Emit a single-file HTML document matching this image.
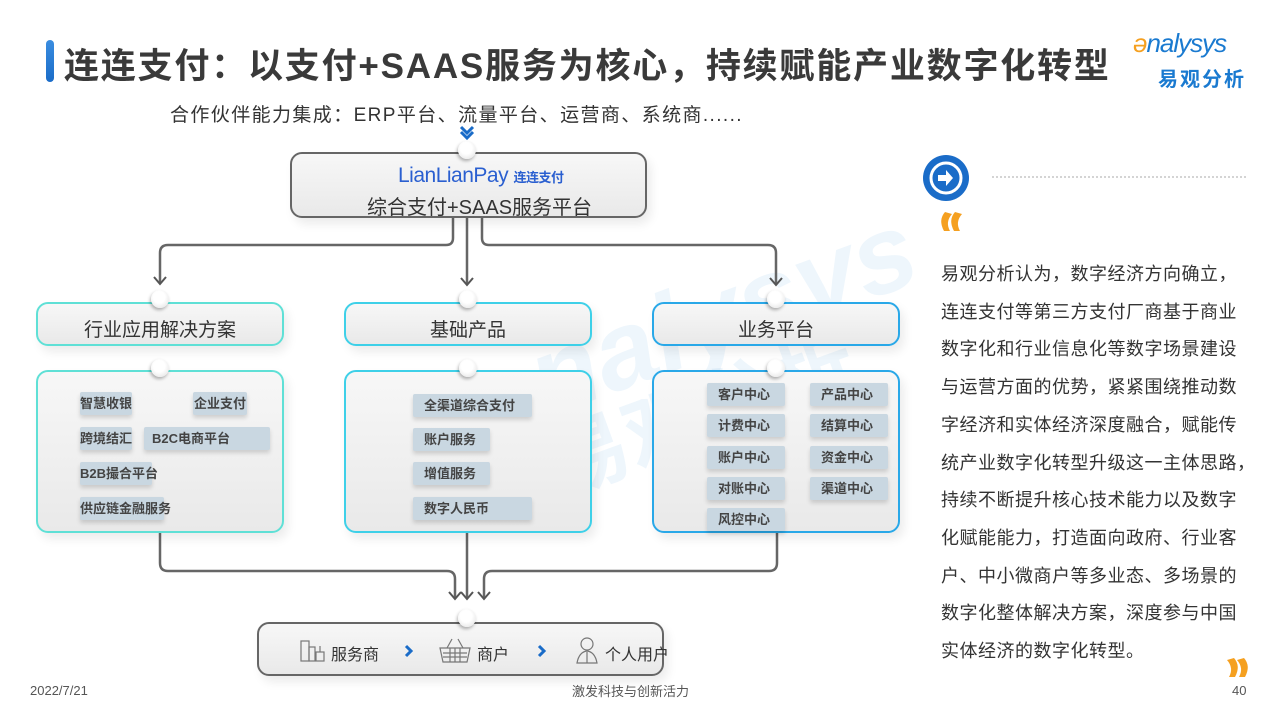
<!DOCTYPE html>
<html><head><meta charset="utf-8">
<style>
*{margin:0;padding:0;box-sizing:border-box}
body{width:1280px;height:720px;overflow:hidden;background:#fff;font-family:"Liberation Sans","Noto Sans CJK SC",sans-serif;position:relative;color:#333}
.a{position:absolute}
.box{position:absolute;border-radius:12px;background:linear-gradient(#f7f7f7,#e9e9e9);box-shadow:4px 6px 10px rgba(0,0,0,0.08)}
.pill{position:absolute;height:23px;background:#c9d7e1;font-weight:bold;font-size:13px;color:#444;line-height:23px;padding-left:11px;box-shadow:0 3px 4px rgba(0,0,0,0.15);border-radius:2px;white-space:nowrap;overflow:visible}
.knob{position:absolute;width:18px;height:18px;border-radius:50%;background:radial-gradient(circle at 45% 40%,#fff 40%,#ddd 100%);box-shadow:-1px 2px 3px rgba(0,0,0,0.3)}
.t{position:absolute;white-space:nowrap}
</style></head><body>
<div class="t" style="left:520px;top:250px;font-size:110px;font-weight:bold;font-style:italic;color:rgba(40,140,220,0.08);transform:rotate(-20deg)">nalysys</div>
<div class="t" style="left:540px;top:350px;font-size:80px;font-weight:bold;color:rgba(40,140,220,0.08);transform:rotate(-20deg)">易观分析</div>

<div class="a" style="left:46px;top:40px;width:8px;height:42px;border-radius:4px;background:linear-gradient(#3a8de0,#1a6cc8)"></div>
<div class="t" style="left:64px;top:38px;font-size:35px;font-weight:bold;color:#3a3a3a;letter-spacing:1.8px">连连支付：以支付+SAAS服务为核心，持续赋能产业数字化转型</div>
<div class="t" style="left:1133px;top:28px;font-size:26px;font-style:italic;color:#1a7ad0;letter-spacing:-1px"><span style="color:#f5a020">ə</span>nalysys</div>
<div class="t" style="left:1158px;top:63px;font-size:20px;font-weight:bold;color:#1a7ad0;letter-spacing:2px">易观分析</div>
<div class="t" style="left:170px;top:100px;font-size:19px;color:#333;letter-spacing:1.4px">合作伙伴能力集成：ERP平台、流量平台、运营商、系统商......</div>

<svg class="a" style="left:0;top:0" width="1280" height="720">
<g fill="none" stroke="#666" stroke-width="2.5">
<path d="M453,218 V238 Q453,245 446,245 H168 Q160,245 160,253 V283"/>
<path d="M467,218 V284"/>
<path d="M482,218 V238 Q482,245 489,245 H768 Q776,245 776,253 V284"/>
<path d="M160,533 V563 Q160,571 168,571 H447 Q455,571 455,579 V598"/>
<path d="M467,533 V598"/>
<path d="M777,533 V563 Q777,571 769,571 H492 Q484,571 484,579 V598"/>
</g>
<g fill="none" stroke="#555" stroke-width="2">
<path d="M154,277 L160,284 L166,277"/><path d="M461,278 L467,285 L473,278"/><path d="M770,278 L776,285 L782,278"/>
<path d="M449,592 L455,599 L461,592"/><path d="M461,592 L467,599 L473,592"/><path d="M478,592 L484,599 L490,592"/>
</g>
<path d="M461,127 L467,133 L473,127 M461,132 L467,138 L473,132" stroke="#1a6cc8" stroke-width="3" fill="none"/>
<line x1="992" y1="177" x2="1246" y2="177" stroke="#aaa" stroke-dasharray="2,2"/>
<circle cx="946" cy="178" r="23" fill="#1a6cc8"/><circle cx="946" cy="178" r="15" fill="none" stroke="#fff" stroke-width="3"/>
<path d="M938,175 H946 V170 L953,178 L946,186 V181 H938 Z" fill="#fff"/>
<g fill="#f5a020">
<path d="M945,212 Q938,220 944,231 L950,231 Q945,222 952,214 Z"/><path d="M955,212 Q948,220 954,231 L960,231 Q955,222 962,214 Z"/>
<path d="M1234,658 Q1241,666 1235,677 L1229,677 Q1234,668 1227,660 Z"/><path d="M1244,658 Q1251,666 1245,677 L1239,677 Q1244,668 1237,660 Z"/>
</g>
</svg>

<div class="box" style="left:290px;top:152px;width:357px;height:66px;border:2.5px solid #666"></div>
<div class="knob" style="left:458px;top:141px"></div>
<div class="t" style="left:398px;top:164px;font-size:21px;color:#2a5fd0;letter-spacing:-0.5px">LianLianPay <span style="font-size:13px;font-weight:bold">连连支付</span></div>
<div class="t" style="left:367px;top:191px;font-size:20px;color:#333">综合支付+SAAS服务平台</div>

<div class="box" style="left:36px;top:302px;width:248px;height:44px;border:2.5px solid #5fe0d6"></div>
<div class="box" style="left:344px;top:302px;width:248px;height:44px;border:2.5px solid #3ed0e8"></div>
<div class="box" style="left:652px;top:302px;width:248px;height:44px;border:2.5px solid #29a8e8"></div>
<div class="t" style="left:36px;width:248px;top:315px;text-align:center;font-size:19px">行业应用解决方案</div>
<div class="t" style="left:344px;width:248px;top:315px;text-align:center;font-size:19px">基础产品</div>
<div class="t" style="left:652px;width:248px;top:315px;text-align:center;font-size:19px">业务平台</div>

<div class="box" style="left:36px;top:370px;width:248px;height:163px;border:2.5px solid #5fe0d6"></div>
<div class="box" style="left:344px;top:370px;width:248px;height:163px;border:2.5px solid #3ed0e8"></div>
<div class="box" style="left:652px;top:370px;width:248px;height:163px;border:2.5px solid #29a8e8"></div>

<div class="knob" style="left:151px;top:290px"></div>
<div class="knob" style="left:459px;top:290px"></div>
<div class="knob" style="left:767px;top:290px"></div>
<div class="knob" style="left:151px;top:359px"></div>
<div class="knob" style="left:459px;top:359px"></div>
<div class="knob" style="left:767px;top:359px"></div>

<div class="pill" style="left:80px;top:392px;width:52px;padding-left:0;text-align:center">智慧收银</div>
<div class="pill" style="left:193px;top:392px;width:54px;padding-left:0;text-align:center">企业支付</div>
<div class="pill" style="left:80px;top:427px;width:52px;padding-left:0;text-align:center">跨境结汇</div>
<div class="pill" style="left:144px;top:427px;width:126px;padding-left:8px">B2C电商平台</div>
<div class="pill" style="left:80px;top:462px;width:72px;padding-left:0">B2B撮合平台</div>
<div class="pill" style="left:80px;top:497px;width:84px;padding-left:0">供应链金融服务</div>

<div class="pill" style="left:413px;top:394px;width:119px">全渠道综合支付</div>
<div class="pill" style="left:413px;top:428px;width:77px">账户服务</div>
<div class="pill" style="left:413px;top:462px;width:77px">增值服务</div>
<div class="pill" style="left:413px;top:497px;width:119px">数字人民币</div>

<div class="pill" style="left:707px;top:383px;width:78px">客户中心</div>
<div class="pill" style="left:810px;top:383px;width:78px">产品中心</div>
<div class="pill" style="left:707px;top:414px;width:78px">计费中心</div>
<div class="pill" style="left:810px;top:414px;width:78px">结算中心</div>
<div class="pill" style="left:707px;top:446px;width:78px">账户中心</div>
<div class="pill" style="left:810px;top:446px;width:78px">资金中心</div>
<div class="pill" style="left:707px;top:477px;width:78px">对账中心</div>
<div class="pill" style="left:810px;top:477px;width:78px">渠道中心</div>
<div class="pill" style="left:707px;top:508px;width:78px">风控中心</div>

<div class="box" style="left:257px;top:622px;width:407px;height:54px;border:2.5px solid #666"></div>
<div class="knob" style="left:458px;top:609px"></div>
<div class="t" style="left:331px;top:641px;font-size:16px">服务商</div>
<div class="t" style="left:477px;top:641px;font-size:16px">商户</div>
<div class="t" style="left:605px;top:641px;font-size:16px">个人用户</div>
<svg class="a" style="left:0;top:0" width="1280" height="720">
<g fill="none" stroke="#777" stroke-width="1.2">
<rect x="301" y="641" width="8" height="20"/><rect x="309" y="647" width="6" height="14"/><rect x="316" y="652" width="8" height="9"/><line x1="320" y1="646" x2="320" y2="652"/>
<path d="M440,648 H470 L467,662 H443 Z"/><path d="M447,648 L452,639 M463,648 L458,639"/><path d="M443,653 H467 M443,657 H467 M450,648 V662 M455,648 V662 M460,648 V662"/>
<circle cx="587" cy="644" r="6"/><path d="M577,663 Q579,652 587,651 Q595,652 597,663 Z"/><path d="M587,652 V663"/>
</g>
<path d="M406,646 L411,651 L406,656" stroke="#1a6cc8" stroke-width="3" fill="none"/>
<path d="M539,646 L544,651 L539,656" stroke="#1a6cc8" stroke-width="3" fill="none"/>
</svg>

<div class="a" style="left:941px;top:256px;width:330px;font-size:18px;line-height:37.7px;color:#333;letter-spacing:0.5px;white-space:nowrap">易观分析认为，数字经济方向确立，<br>连连支付等第三方支付厂商基于商业<br>数字化和行业信息化等数字场景建设<br>与运营方面的优势，紧紧围绕推动数<br>字经济和实体经济深度融合，赋能传<br>统产业数字化转型升级这一主体思路，<br>持续不断提升核心技术能力以及数字<br>化赋能能力，打造面向政府、行业客<br>户、中小微商户等多业态、多场景的<br>数字化整体解决方案，深度参与中国<br>实体经济的数字化转型。</div>

<div class="t" style="left:30px;top:683px;font-size:13px;color:#555">2022/7/21</div>
<div class="t" style="left:572px;top:681px;font-size:13px;color:#555">激发科技与创新活力</div>
<div class="t" style="left:1232px;top:683px;font-size:13px;color:#555">40</div>
</body></html>
